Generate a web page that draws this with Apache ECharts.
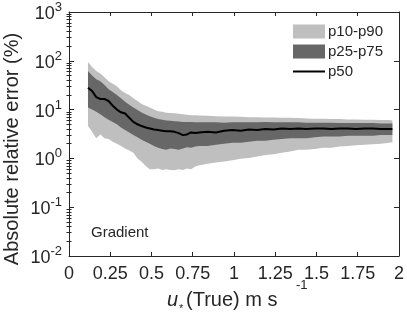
<!DOCTYPE html>
<html><head><meta charset="utf-8">
<script src="https://cdn.jsdelivr.net/npm/echarts@6/dist/echarts.min.js"></script>
<style>html,body{margin:0;padding:0;background:#fff}#c{width:407px;height:316px}</style>
</head><body><div id="c"></div>
<script>
const uVals = [0.115,0.14,0.165,0.19,0.215,0.24,0.265,0.29,0.315,0.34,
  0.365,0.39,0.415,0.44,0.465,0.49,0.515,0.54,0.565,0.59,
  0.615,0.64,0.665,0.69,0.715,0.74,0.765,0.79,
  0.84,0.89,0.94,0.99,1.04,1.09,1.14,1.19,1.24,1.29,
  1.34,1.39,1.44,1.49,1.54,1.59,1.64,1.69,1.74,1.79,
  1.84,1.89,1.94,1.96];
const p90 = [95,75,62,55,46,38,34,30,25,22,
  20,17,15,13,12,11,10,9.3,9,8.6,
  8.5,8.4,8.2,8.0,7.8,7.7,7.7,7.6,
  7.5,7.3,7.2,7.2,7.1,7.0,7.0,6.9,6.9,6.8,
  6.8,6.7,6.6,6.5,6.5,6.4,6.4,6.3,6.3,6.2,
  6.2,6.1,6.1,6.0];
const p75 = [62,50,42,38,32,26,23,20,17,14.5,
  12.5,11,9.8,8.7,7.9,7.3,6.8,6.4,6.2,6.0,
  5.9,5.8,5.7,5.6,5.6,5.6,5.5,5.5,
  5.5,5.5,5.4,5.5,5.5,5.5,5.5,5.6,5.5,5.5,
  5.5,5.5,5.4,5.4,5.4,5.4,5.3,5.3,5.3,5.3,
  5.3,5.2,5.2,5.2];
const p50 = [28,24,18,16.5,16.5,15,12,10,8.8,8.3,
  6.8,5.6,5.0,4.6,4.3,4.1,3.9,3.8,3.7,3.6,
  3.6,3.5,3.3,3.0,3.1,3.4,3.3,3.4,
  3.5,3.4,3.7,3.8,3.7,3.9,3.8,4.0,3.9,4.1,
  4.0,4.1,4.0,4.1,4.1,4.0,4.1,4.1,4.0,4.1,
  4.1,4.0,4.0,4.0];
const p25 = [11,10,9,8,7,6.2,5.6,5.0,4.3,3.8,
  3.4,3.0,2.7,2.4,2.2,2.0,1.8,1.65,1.55,1.5,
  1.6,1.55,1.5,1.6,1.7,1.65,1.75,1.8,
  1.8,1.9,2.0,2.1,2.1,2.2,2.3,2.3,2.4,2.5,
  2.6,2.6,2.6,2.7,2.8,2.8,2.8,2.9,2.9,2.9,
  2.9,3.0,3.0,3.0];
const p10 = [4.6,3.5,2.6,3.1,2.6,2.5,2.2,2.0,1.8,1.6,
  1.45,1.3,1.0,0.85,0.7,0.6,0.6,0.62,0.58,0.6,
  0.58,0.57,0.6,0.58,0.62,0.6,0.68,0.72,
  0.78,0.82,0.86,0.92,0.98,1.02,1.1,1.17,1.22,1.3,
  1.38,1.5,1.5,1.55,1.65,1.65,1.75,1.8,1.85,1.9,
  1.95,2.0,2.1,2.15];
const xTickVals = [0,0.25,0.5,0.75,1,1.25,1.5,1.75,2];
const yDecades = [0.01,0.1,1,10,100,1000];

const FONT = '"Liberation Sans", Arial, Helvetica, sans-serif';
const AX = '#262626';
const minorVals = [];
for (let n = -2; n <= 2; n++) for (let k = 2; k <= 9; k++) minorVals.push(+(k * Math.pow(10, n)).toPrecision(3));

const chart = echarts.init(document.getElementById('c'), null, {renderer: 'canvas'});

const baseY = {
  type: 'log', min: 0.01, max: 1000, logBase: 10,
  splitLine: {show: false}, minorTick: {show: false},
  axisLine: {show: true, onZero: false, lineStyle: {color: AX, width: 1}}
};

function band(name, lo, hi, color, z) {
  return {
    name: name, type: 'custom', z: z,
    itemStyle: {color: color},
    data: uVals.map((u, i) => [u, lo[i], hi[i]]),
    encode: {x: 0, y: [1, 2]},
    renderItem: function (params, api) {
      if (params.dataIndex !== 0) return null;
      const top = [], bot = [];
      for (let i = 0; i < uVals.length; i++) {
        top.push(api.coord([uVals[i], hi[i]]));
        bot.push(api.coord([uVals[i], lo[i]]));
      }
      return {type: 'polygon', shape: {points: top.concat(bot.reverse())},
              style: {fill: color, stroke: null}};
    }
  };
}

chart.setOption({
  animation: false,
  textStyle: {fontFamily: FONT},
  grid: {left: 69, right: 4, top: 12, bottom: 60, containLabel: false},
  xAxis: [
    {type: 'value', min: 0, max: 2, interval: 0.25, position: 'bottom',
     splitLine: {show: false},
     axisLine: {onZero: false, lineStyle: {color: AX}},
     axisTick: {inside: true, length: 4, lineStyle: {color: AX}, customValues: xTickVals},
     axisLabel: {color: AX, fontSize: 18, margin: 9, fontFamily: FONT,
                 customValues: xTickVals, formatter: v => String(v)}},
    {type: 'value', min: 0, max: 2, interval: 0.25, position: 'top',
     splitLine: {show: false},
     axisLine: {onZero: false, lineStyle: {color: AX}},
     axisTick: {inside: true, length: 4, lineStyle: {color: AX}, customValues: xTickVals},
     axisLabel: {show: false}}
  ],
  yAxis: [
    Object.assign({}, baseY, {position: 'left',
      axisTick: {inside: true, length: 5, lineStyle: {color: AX}, customValues: yDecades},
      axisLabel: {margin: 7, customValues: yDecades,
        formatter: v => '{b|10}{e|' + Math.round(Math.log10(v)) + '}',
        rich: {b: {fontSize: 18, color: AX, fontFamily: FONT, verticalAlign: 'bottom', lineHeight: 22},
               e: {fontSize: 13, color: AX, fontFamily: FONT, verticalAlign: 'top', lineHeight: 13}}}}),
    Object.assign({}, baseY, {position: 'left', axisLine: {show: false},
      axisTick: {inside: true, length: 2.5, lineStyle: {color: AX}, customValues: minorVals},
      axisLabel: {show: false}}),
    Object.assign({}, baseY, {position: 'right',
      axisTick: {inside: true, length: 5, lineStyle: {color: AX}, customValues: yDecades},
      axisLabel: {show: false}}),
    Object.assign({}, baseY, {position: 'right', axisLine: {show: false},
      axisTick: {inside: true, length: 2.5, lineStyle: {color: AX}, customValues: minorVals},
      axisLabel: {show: false}})
  ],
  legend: {
    orient: 'vertical', left: 293, top: 24, itemWidth: 32, itemHeight: 14, itemGap: 5,
    padding: 0,
    textStyle: {fontSize: 15, color: AX, fontFamily: FONT, padding: [0, 0, 0, -2]},
    data: [{name: 'p10-p90', icon: 'rect'}, {name: 'p25-p75', icon: 'rect'},
           {name: 'p50', icon: 'path://M0,0 L32,0 L32,2 L0,2 Z'}]
  },
  series: [
    band('p10-p90', p10, p90, '#bfbfbf', 1),
    band('p25-p75', p25, p75, '#676767', 2),
    {name: 'p50', type: 'line', data: uVals.map((u, i) => [u, p50[i]]), symbol: 'none',
     itemStyle: {color: '#000'}, lineStyle: {width: 2, color: '#000'}, z: 3}
  ],
  graphic: [
    {type: 'text', x: 12, y: 149, rotation: Math.PI / 2,
     style: {text: 'Absolute relative error (%)', fontSize: 20, fontFamily: FONT, fill: AX,
             align: 'center', verticalAlign: 'middle'}},
    {type: 'text', x: 91, y: 233,
     style: {text: 'Gradient', fontSize: 15, fontFamily: FONT, fill: AX, align: 'left', verticalAlign: 'middle'}},
    {type: 'text', x: 167, y: 300,
     style: {text: 'u', fontSize: 20, fontStyle: 'italic', fontFamily: FONT, fill: AX, align: 'left', verticalAlign: 'middle'}},
    {type: 'text', x: 179, y: 309,
     style: {text: '*', fontSize: 11, fontFamily: FONT, fill: AX, align: 'left', verticalAlign: 'middle'}},
    {type: 'text', x: 186, y: 300,
     style: {text: '(True) m s', fontSize: 20, fontFamily: FONT, fill: AX, align: 'left', verticalAlign: 'middle'}},
    {type: 'text', x: 296, y: 285,
     style: {text: '-1', fontSize: 13, fontFamily: FONT, fill: AX, align: 'left', verticalAlign: 'middle'}}
  ]
});
</script></body></html>
